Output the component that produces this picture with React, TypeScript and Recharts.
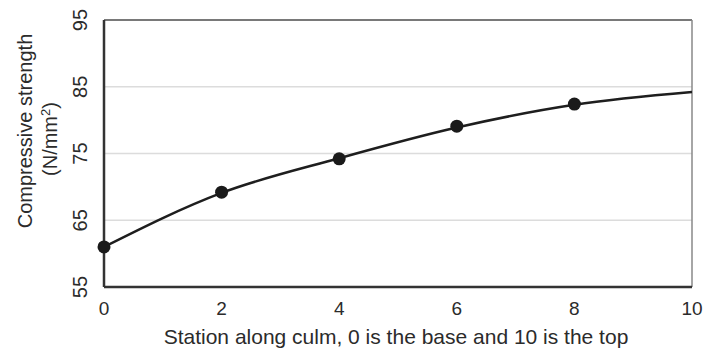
import { ComposedChart, Line, XAxis, YAxis, CartesianGrid, ReferenceLine } from 'recharts';

// station along culm (0 = base, 10 = top)
const stations = [0, 2, 4, 6, 8, 10];
// fitted trend curve, N/mm2
const fitted = [61, 69.1, 74.3, 78.9, 82.3, 84.2];
// measured points (no measurement at the top)
const measured = [61, 69.2, 74.2, 79.1, 82.4, null];
const xTicks = [0, 2, 4, 6, 8, 10];
const yTicks = [55, 65, 75, 85, 95];

const FONT = '"Liberation Sans", Arial, sans-serif';
const TEXT = '#2b2b2b';

const data = stations.map((s, i) => ({ station: s, fitted: fitted[i], measured: measured[i] }));

const YTick = (props: any) => {
  const { y, payload } = props;
  const x = 80;
  return (
    <text
      x={x}
      y={y}
      transform={`rotate(-90, ${x}, ${y})`}
      textAnchor="middle"
      dy={7}
      fontSize={20}
      fontFamily={FONT}
      fill={TEXT}
    >
      {payload.value}
    </text>
  );
};

const XTick = (props: any) => {
  const { x, payload } = props;
  return (
    <text x={x} y={315} textAnchor="middle" fontSize={19} fontFamily={FONT} fill={TEXT}>
      {payload.value}
    </text>
  );
};

const YLabel = () => (
  <g fontFamily={FONT} fontSize={20} fill={TEXT}>
    <text x={25} y={131} dy={7} transform="rotate(-90, 25, 131)" textAnchor="middle">
      Compressive strength
    </text>
    <text x={50} y={139} dy={7} transform="rotate(-90, 50, 139)" textAnchor="middle">
      (N/mm<tspan baselineShift="super" fontSize={13}>2</tspan>)
    </text>
  </g>
);

const XLabel = () => (
  <text x={396} y={344} textAnchor="middle" fontSize={21} fontFamily={FONT} fill={TEXT}>
    Station along culm, 0 is the base and 10 is the top
  </text>
);

export default function App() {
  return (
    <div style={{ position: 'fixed', left: 0, top: 0, width: 706, height: 351, background: '#fff' }}>
      <ComposedChart width={706} height={351} data={data} margin={{ top: 20, right: 14, bottom: 0, left: 0 }}>
        <CartesianGrid vertical={false} stroke="#dcdcdc" strokeWidth={1.5} />
        <XAxis
          dataKey="station"
          type="number"
          domain={[0, 10]}
          ticks={xTicks}
          height={64}
          tickLine={false}
          axisLine={{ stroke: '#333', strokeWidth: 2.5 }}
          tick={<XTick />}
          label={<XLabel />}
        />
        <YAxis
          type="number"
          domain={[55, 95]}
          ticks={yTicks}
          width={104}
          tickLine={false}
          axisLine={{ stroke: '#333', strokeWidth: 2.5 }}
          tick={<YTick />}
          label={<YLabel />}
        />
        <ReferenceLine y={95} stroke="#555" strokeWidth={1.5} />
        <ReferenceLine x={10} stroke="#888" strokeWidth={1.5} />
        <Line
          dataKey="fitted"
          type="monotone"
          stroke="#1e1e1e"
          strokeWidth={2.5}
          dot={false}
          activeDot={false}
          isAnimationActive={false}
        />
        <Line
          dataKey="measured"
          stroke="none"
          dot={{ r: 6.5, fill: '#1a1a1a', stroke: 'none' }}
          activeDot={false}
          isAnimationActive={false}
        />
      </ComposedChart>
    </div>
  );
}
